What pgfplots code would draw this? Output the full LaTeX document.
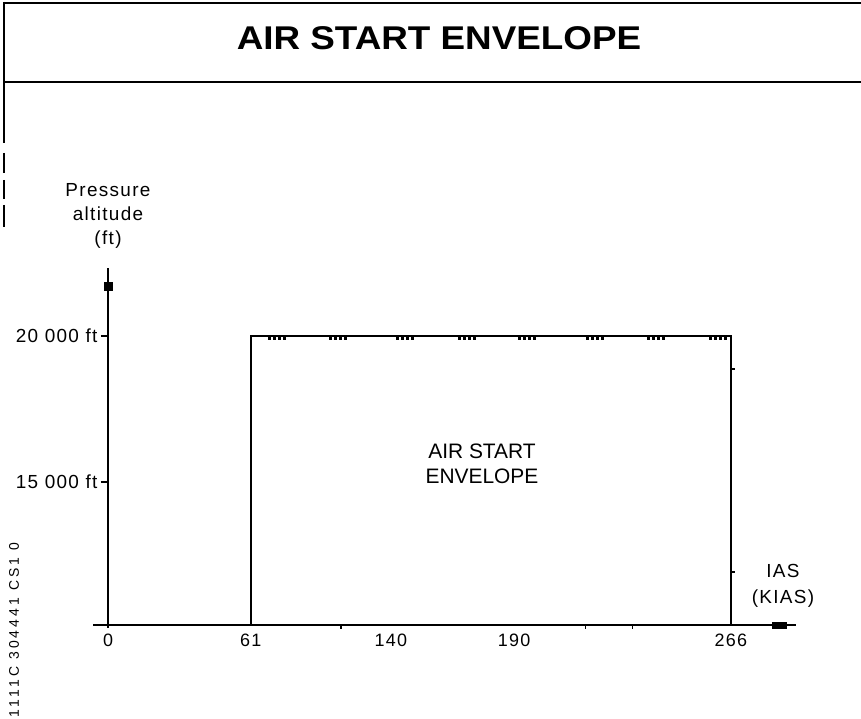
\documentclass[border=0pt]{standalone}
\usepackage{pgfplots}
\pgfplotsset{compat=1.18}
\usepackage{graphicx}
\usepackage{fontspec}
\setmainfont{Liberation Sans}
\newfontfamily\spaced[LetterSpace=7]{Liberation Sans}
\newfontfamily\wide[LetterSpace=22]{Liberation Sans}
\begin{document}
\begin{tikzpicture}[x=1bp,y=1bp]
\useasboundingbox (0,0) rectangle (861,719);
% title frame
\draw[line width=2bp] (3,716) -- (861,716);
\draw[line width=2bp] (3,637) -- (861,637);
\draw[line width=2bp] (4,717) -- (4,576);
\draw[line width=2bp] (4,566) -- (4,546);
\draw[line width=2bp] (4,539) -- (4,520);
\draw[line width=2bp] (4,514) -- (4,492);
\node[anchor=base, inner sep=0] at (439,669) {\scalebox{1.12}[1]{\fontsize{33}{38}\selectfont\bfseries AIR START ENVELOPE}};
\begin{axis}[
  at={(93bp,91bp)}, anchor=south west,
  scale only axis, width=703bp, height=360bp,
  xmin=-6.4, xmax=293.8, ymin=-208, ymax=24705,
  axis lines=middle,
  axis line style={-, line width=2bp, black},
  every tick/.style={black, line width=1.2bp},
  tick align=outside,
  major tick length=4bp,
  xtick={0,99.5,204,224}, xticklabels={},
  extra x ticks={0,61,120.8,173.4,266},
  extra x tick labels={0,61,140,190,266},
  extra x tick style={major tick length=0pt, tick label style={yshift=-5bp}},
  ytick=\empty,
  extra y ticks={9900,20000},
  extra y tick labels={15 000 ft, 20 000 ft},
  extra y tick style={major tick length=7bp, tick label style={font=\spaced\fontsize{19}{21}\selectfont}},
  tick label style={font=\spaced\fontsize{18}{20}\selectfont},
  /pgf/number format/assume math mode=true,
  clip=false,
]
\addplot[black, line width=2bp] coordinates {(61,0) (61,20000) (266,20000) (266,0)};
\addplot[only marks, mark=square*, mark size=3bp, mark options={xscale=2.3}] coordinates {(286.5,0)};
\addplot[only marks, mark=square*, mark size=4bp] coordinates {(0,23460)};
\addplot[black, line width=1.2bp] coordinates {(266,17715) (267.8,17715)};
\addplot[black, line width=1.2bp] coordinates {(266,3668) (267.8,3668)};
\end{axis}
% small teeth under the top edge of the envelope
\foreach \c in {277,338,405,467,527,595,656,718}{
  \draw[line width=3bp, dash pattern=on 2.5bp off 2.5bp] (\c-9,380.5) -- (\c+10,380.5);
}
\node[align=center, font=\fontsize{21}{25}\selectfont] at (482,255.5) {AIR START\\ENVELOPE};
\node[align=center, font=\spaced\fontsize{19}{24}\selectfont] at (108,503) {Pressure\\altitude\\(ft)};
\node[align=center, font=\spaced\fontsize{19}{26}\selectfont] at (783,133) {IAS\\(KIAS)};
\node[rotate=90, font=\wide\fontsize{14}{16}\selectfont] at (14,89) {1111C 304441 CS1 0};
\end{tikzpicture}
\end{document}
